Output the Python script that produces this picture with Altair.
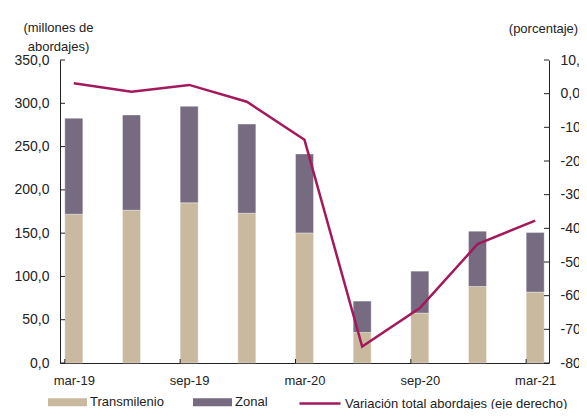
import altair as alt
import pandas as pd

# ---- data ----
quarters = ["mar-19", "jun-19", "sep-19", "dic-19", "mar-20", "jun-20", "sep-20", "dic-20", "mar-21"]
transmilenio = [171.9, 176.5, 185.0, 173.0, 150.3, 35.3, 57.7, 88.4, 81.9]
zonal = [110.8, 110.0, 111.5, 103.0, 91.2, 36.2, 48.4, 63.9, 68.8]
variacion = [3.1, 0.6, 2.6, -2.4, -13.7, -75.1, -63.7, -44.7, -37.7]
series_names = ["Transmilenio", "Zonal"]
line_name = "Variación total abordajes (eje derecho)"
left_tick_vals = [0, 50, 100, 150, 200, 250, 300, 350]
right_tick_vals = [10, 0, -10, -20, -30, -40, -50, -60, -70, -80]
x_label_idx = [0, 2, 4, 6, 8]

# ---- styling ----
FONT = "Liberation Sans"
TAN = "#C9B99E"
PURPLE = "#766B80"
CRIMSON = "#A3195B"
AXIS = "#222222"
W, H = 489, 303
BAR_W = 18

rows = []
for i, q in enumerate(quarters):
    rows.append({"idx": i, "quarter": q, "serie": series_names[0], "valor": transmilenio[i], "ord": 0})
    rows.append({"idx": i, "quarter": q, "serie": series_names[1], "valor": zonal[i], "ord": 1})
bars_df = pd.DataFrame(rows)
line_df = pd.DataFrame({"idx": list(range(len(quarters))), "var": variacion, "s": [line_name] * len(quarters)})

x_scale = alt.Scale(domain=[-0.153, 8.153], nice=False, zero=False)
yl_scale = alt.Scale(domain=[0, 350], nice=False)
yr_scale = alt.Scale(domain=[-80, 10], nice=False)

lbl_arr = "[" + ",".join("'" + q + "'" for q in quarters) + "]"
num_expr = "replace(replace(format(datum.value, '.1f'), '.', ','), '\u2212', '-')"

x_axis = alt.Axis(values=x_label_idx, labelExpr=lbl_arr + "[datum.value]", ticks=False,
                  labelPadding=11, labelFontSize=13, labelFlush=False, labelOverlap=False,
                  title=None, grid=False, domainColor=AXIS, labelColor=AXIS)

yl_axis = alt.Axis(values=left_tick_vals, labelExpr=num_expr, ticks=False, labelPadding=11,
                   labelFontSize=14, grid=False, domainColor=AXIS, labelColor=AXIS,
                   title=["(millones de", "abordajes)"], titleAngle=0, titleAlign="center",
                   titleBaseline="middle", titleX=-2, titleY=-33, titleFontWeight="normal",
                   titleFontSize=13, titleLineHeight=19, titleColor=AXIS)

yr_axis = alt.Axis(orient="right", values=right_tick_vals, labelExpr=num_expr, ticks=False,
                   labelPadding=11, labelFontSize=14, grid=False, domainColor=AXIS,
                   labelColor=AXIS, title="(porcentaje)", titleAngle=0, titleAlign="center",
                   titleBaseline="middle", titleX=-6, titleY=-32, titleFontWeight="normal",
                   titleFontSize=13, titleColor=AXIS)

rect_path = "M-1,-0.205H1V0.205H-1Z"

bars = alt.Chart(bars_df).mark_bar(width=BAR_W, stroke="#ffffff", strokeWidth=0.8, strokeOpacity=0.45).encode(
    x=alt.X("idx:Q", scale=x_scale, axis=x_axis),
    y=alt.Y("valor:Q", stack="zero", scale=yl_scale, axis=yl_axis),
    color=alt.Color("serie:N", scale=alt.Scale(domain=series_names, range=[TAN, PURPLE]),
                    legend=alt.Legend(orient="none", legendX=-12, legendY=322.5, direction="horizontal",
                                      title=None, symbolType=rect_path, symbolSize=1521,
                                      symbolStrokeWidth=0, labelOffset=3, columnPadding=29,
                                      labelFontSize=13, labelColor=AXIS, padding=0)),
    order=alt.Order("ord:Q"),
)

left_ticks = alt.Chart(pd.DataFrame({"v": left_tick_vals})).mark_rule(color=AXIS, strokeWidth=1).encode(
    y=alt.Y("v:Q", scale=yl_scale, axis=yl_axis),
    x=alt.value(0), x2=alt.value(5),
)

x_ticks = alt.Chart(pd.DataFrame({"v": x_label_idx})).mark_rule(color=AXIS, strokeWidth=1).encode(
    x=alt.X("v:Q", scale=x_scale, axis=x_axis),
    xOffset=alt.value(-BAR_W / 2),
    y=alt.value(H), y2=alt.value(H - 4),
)

line = alt.Chart(line_df).mark_line(strokeWidth=2.5).encode(
    x=alt.X("idx:Q", scale=x_scale, axis=x_axis),
    y=alt.Y("var:Q", scale=yr_scale, axis=yr_axis),
    stroke=alt.Stroke("s:N", scale=alt.Scale(domain=[line_name], range=[CRIMSON]),
                      legend=alt.Legend(orient="none", legendX=238, legendY=321.5, direction="horizontal",
                                        title=None, symbolType="M-1,0H1", symbolSize=1681,
                                        symbolStrokeWidth=2.5, labelOffset=3, labelFontSize=13,
                                        labelColor=AXIS, padding=0, labelLimit=400)),
)

right_ticks = alt.Chart(pd.DataFrame({"v": right_tick_vals})).mark_rule(color=AXIS, strokeWidth=1).encode(
    y=alt.Y("v:Q", scale=yr_scale, axis=yr_axis),
    x=alt.value(W), x2=alt.value(W - 5),
)

left = alt.layer(bars, left_ticks, x_ticks)
right = alt.layer(line, right_ticks)

chart = alt.layer(left, right).resolve_scale(y="independent", color="independent", stroke="independent").properties(
    width=W, height=H,
    autosize=alt.AutoSizeParams(type="none"),
    padding={"left": 52, "top": 52, "right": 30, "bottom": 46},
).configure(font=FONT).configure_view(stroke=None)

chart.save("out.html", embed_options={"renderer": "svg", "actions": False})
